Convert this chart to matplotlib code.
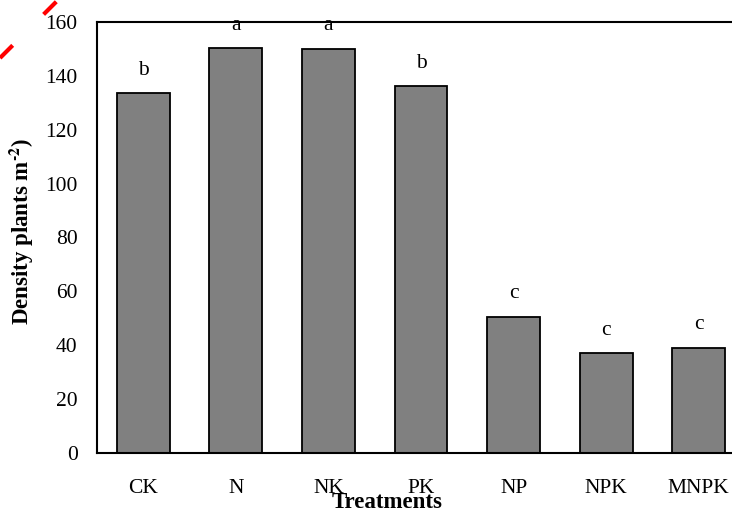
import matplotlib
matplotlib.use("Agg")
import matplotlib.pyplot as plt
from matplotlib.lines import Line2D

treatments = ["CK", "N", "NK", "PK", "NP", "NPK", "MNPK"]
density = [133.6, 150.3, 150.0, 136.2, 50.5, 37.1, 39.0]
letters = ["b", "a", "a", "b", "c", "c", "c"]

plt.rcParams["font.family"] = ["Liberation Serif", "DejaVu Serif"]
plt.rcParams["mathtext.fontset"] = "stix"

fig = plt.figure(figsize=(7.32, 5.11), dpi=100)
# axes run past the right edge of the picture, as in the reference
ax = fig.add_axes([97 / 732, 58 / 511, 648 / 732, 431 / 511])

x = range(len(treatments))
ax.bar(x, density, width=0.57, color="#808080", edgecolor="black", linewidth=1.3)
for i, (v, l) in enumerate(zip(density, letters)):
    ax.text(i, v + 5, l, ha="center", va="bottom", fontsize=15.5, clip_on=False)

ax.set_xlim(-0.5, 6.5)
ax.set_ylim(0, 160)
ax.set_yticks(range(0, 161, 20))
ax.set_xticks(list(x))
ax.set_xticklabels(treatments)
ax.tick_params(axis="both", length=0, labelsize=15.5)
ax.tick_params(axis="x", pad=19)
ax.tick_params(axis="y", pad=14)
for s in ["left", "bottom", "top"]:
    ax.spines[s].set_linewidth(1.5)
ax.spines["right"].set_visible(False)

fig.text(387 / 732, 1 - 502 / 511, "Treatments", ha="center", va="center",
         fontsize=16.5, fontweight="bold")
fig.text(22 / 732, 1 - 231 / 511, "Density plants m$^{\\mathbf{\u20102}}$)",
         ha="center", va="center", rotation=90, fontsize=16.5, fontweight="bold")

# red dashed stroke in the top-left corner
fig.add_artist(Line2D([0 / 732, 60 / 732], [1 - 58 / 511, 1 + 2 / 511],
                      color="red", lw=3, linestyle=(0, (4.3, 10.5)),
                      transform=fig.transFigure))

fig.savefig("out.png", dpi=100)
